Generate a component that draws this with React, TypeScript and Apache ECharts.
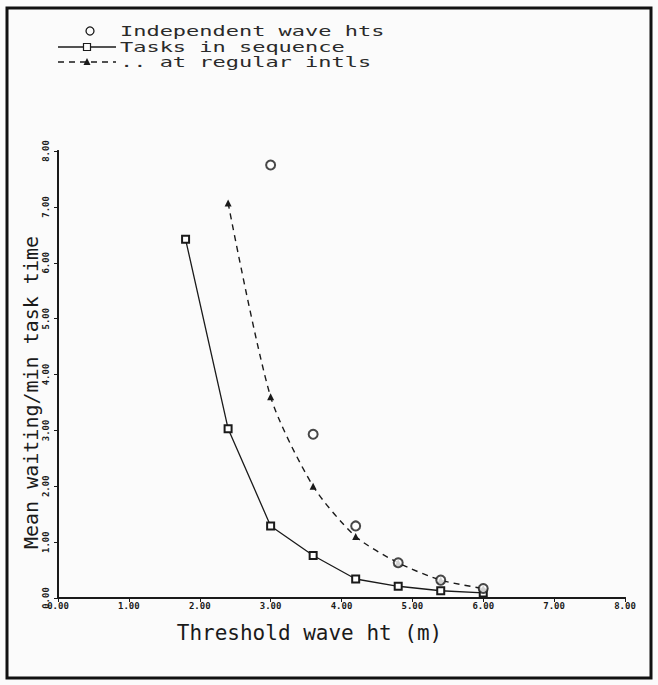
import React, { useEffect, useRef } from "react";
import * as echarts from "echarts";

const xTicks = [0, 1, 2, 3, 4, 5, 6, 7, 8];
const yTicks = [0, 1, 2, 3, 4, 5, 6, 7, 8];

const seqX = [1.8, 2.4, 3.0, 3.6, 4.2, 4.8, 5.4, 6.0];
const seqY = [6.42, 3.03, 1.29, 0.76, 0.34, 0.21, 0.13, 0.09];

const regX = [2.4, 3.0, 3.6, 4.2, 4.8, 5.4, 6.0];
const regY = [7.07, 3.6, 2.0, 1.1, 0.63, 0.32, 0.17];

const indX = [3.0, 3.6, 4.2, 4.8, 5.4, 6.0];
const indY = [7.75, 2.93, 1.29, 0.63, 0.32, 0.17];

const seriesNames = ["Independent wave hts", "Tasks in sequence", ".. at regular intls"];

const MONO = "'DejaVu Sans Mono', 'Liberation Mono', monospace";
const INK = "#1a1a1a";

export default function App() {
  const ref = useRef<HTMLDivElement>(null);
  useEffect(() => {
    if (!ref.current) return;
    const chart = echarts.init(ref.current, null, { renderer: "svg" });
    const pair = (xs: number[], ys: number[]) => xs.map((x, i) => [x, ys[i]]);
    const tickLabel = {
      fontFamily: MONO,
      fontSize: 9,
      fontWeight: "bold" as const,
      color: INK,
      formatter: (v: number) => v.toFixed(2),
    };
    const baseAxis = {
      type: "value" as const,
      min: xTicks[0],
      max: xTicks[xTicks.length - 1],
      interval: 1,
      splitLine: { show: false },
      axisLine: { show: true, lineStyle: { color: INK, width: 2 } },
    };

    // legend drawn as graphic (plotter-style wide lettering)
    const legX0 = 58;
    const legX1 = 116;
    const legMid = (legX0 + legX1) / 2;
    const legTextX = 120;
    const rowY = [31, 47, 62];
    const legendText = (i: number) => ({
      type: "text",
      x: legTextX,
      y: rowY[i],
      scaleX: 1.57,
      silent: true,
      style: {
        text: seriesNames[i],
        x: 0,
        y: 0,
        font: `14px ${MONO}`,
        fill: "#2a2a2a",
        textVerticalAlign: "middle",
        textAlign: "left",
      },
    });
    const legendGraphics = [
      {
        type: "circle",
        shape: { cx: legMid + 3, cy: rowY[0], r: 4 },
        style: { fill: "none", stroke: INK, lineWidth: 1.3 },
        silent: true,
      },
      legendText(0),
      {
        type: "line",
        shape: { x1: legX0, y1: rowY[1], x2: legX1, y2: rowY[1] },
        style: { stroke: INK, lineWidth: 1.3 },
        silent: true,
      },
      {
        type: "rect",
        shape: { x: legMid - 3.5, y: rowY[1] - 3.5, width: 7, height: 7 },
        style: { fill: "#fbfbfb", stroke: INK, lineWidth: 1.2 },
        silent: true,
      },
      legendText(1),
      {
        type: "line",
        shape: { x1: legX0, y1: rowY[2], x2: legX1, y2: rowY[2] },
        style: { stroke: INK, lineWidth: 1.4, lineDash: [6, 5] },
        silent: true,
      },
      {
        type: "polygon",
        shape: {
          points: [
            [legMid, rowY[2] - 4],
            [legMid - 3.5, rowY[2] + 3],
            [legMid + 3.5, rowY[2] + 3],
          ],
        },
        style: { fill: INK },
        silent: true,
      },
      legendText(2),
    ];

    chart.setOption({
      animation: false,
      backgroundColor: "#fbfbfb",
      grid: { left: 58, right: 33, top: 151, bottom: 87, containLabel: false },
      xAxis: [
        {
          ...baseAxis,
          position: "bottom",
          name: "Threshold wave ht (m)",
          nameLocation: "middle",
          nameGap: 24,
          nameTextStyle: { fontFamily: MONO, fontSize: 21, color: INK, padding: [0, 64, 0, 0] },
          axisTick: { show: true, inside: false, length: 4, lineStyle: { color: INK } },
          axisLabel: { ...tickLabel, margin: 3 },
        },
        {
          ...baseAxis,
          position: "top",
          axisTick: { show: true, inside: true, length: 4, lineStyle: { color: INK } },
          axisLabel: { show: false },
        },
      ],
      yAxis: [
        {
          ...baseAxis,
          min: yTicks[0],
          max: yTicks[yTicks.length - 1],
          position: "left",
          name: "Mean waiting/min task time",
          nameLocation: "middle",
          nameGap: 17,
          nameMoveOverlap: false,
          nameTextStyle: { fontFamily: MONO, fontSize: 20, color: INK, padding: [0, 36, 0, 0] },
          axisTick: { show: true, inside: false, length: 4, lineStyle: { color: INK } },
          axisLabel: { ...tickLabel, rotate: 90, margin: 8 },
        },
        {
          ...baseAxis,
          min: yTicks[0],
          max: yTicks[yTicks.length - 1],
          position: "right",
          axisTick: { show: true, inside: true, length: 4, lineStyle: { color: INK } },
          axisLabel: { show: false },
        },
      ],
      series: [
        {
          name: seriesNames[0],
          type: "scatter",
          data: pair(indX, indY),
          symbol: "emptyCircle",
          symbolSize: 9,
          itemStyle: { color: INK, borderColor: INK, borderWidth: 1.3 },
          z: 3,
        },
        {
          name: seriesNames[1],
          type: "line",
          data: pair(seqX, seqY),
          symbol: "emptyRect",
          symbolSize: 7,
          showAllSymbol: true,
          lineStyle: { color: INK, width: 1.3 },
          itemStyle: { color: INK, borderColor: INK, borderWidth: 1.2 },
          z: 2,
        },
        {
          name: seriesNames[2],
          type: "line",
          data: pair(regX, regY),
          symbol: "triangle",
          symbolSize: 7,
          smooth: 0.25,
          lineStyle: { color: INK, width: 1.4, type: [6, 5] },
          itemStyle: { color: INK },
          z: 2,
        },
      ],
      graphic: [
        {
          type: "rect",
          shape: { x: 7, y: 8, width: 644, height: 670 },
          style: { fill: "none", stroke: "#111", lineWidth: 3 },
          silent: true,
        },
        ...legendGraphics,
      ],
    });
    return () => chart.dispose();
  }, []);
  return (
    <div
      ref={ref}
      style={{ position: "absolute", left: 0, top: 0, width: 658, height: 685 }}
    />
  );
}
